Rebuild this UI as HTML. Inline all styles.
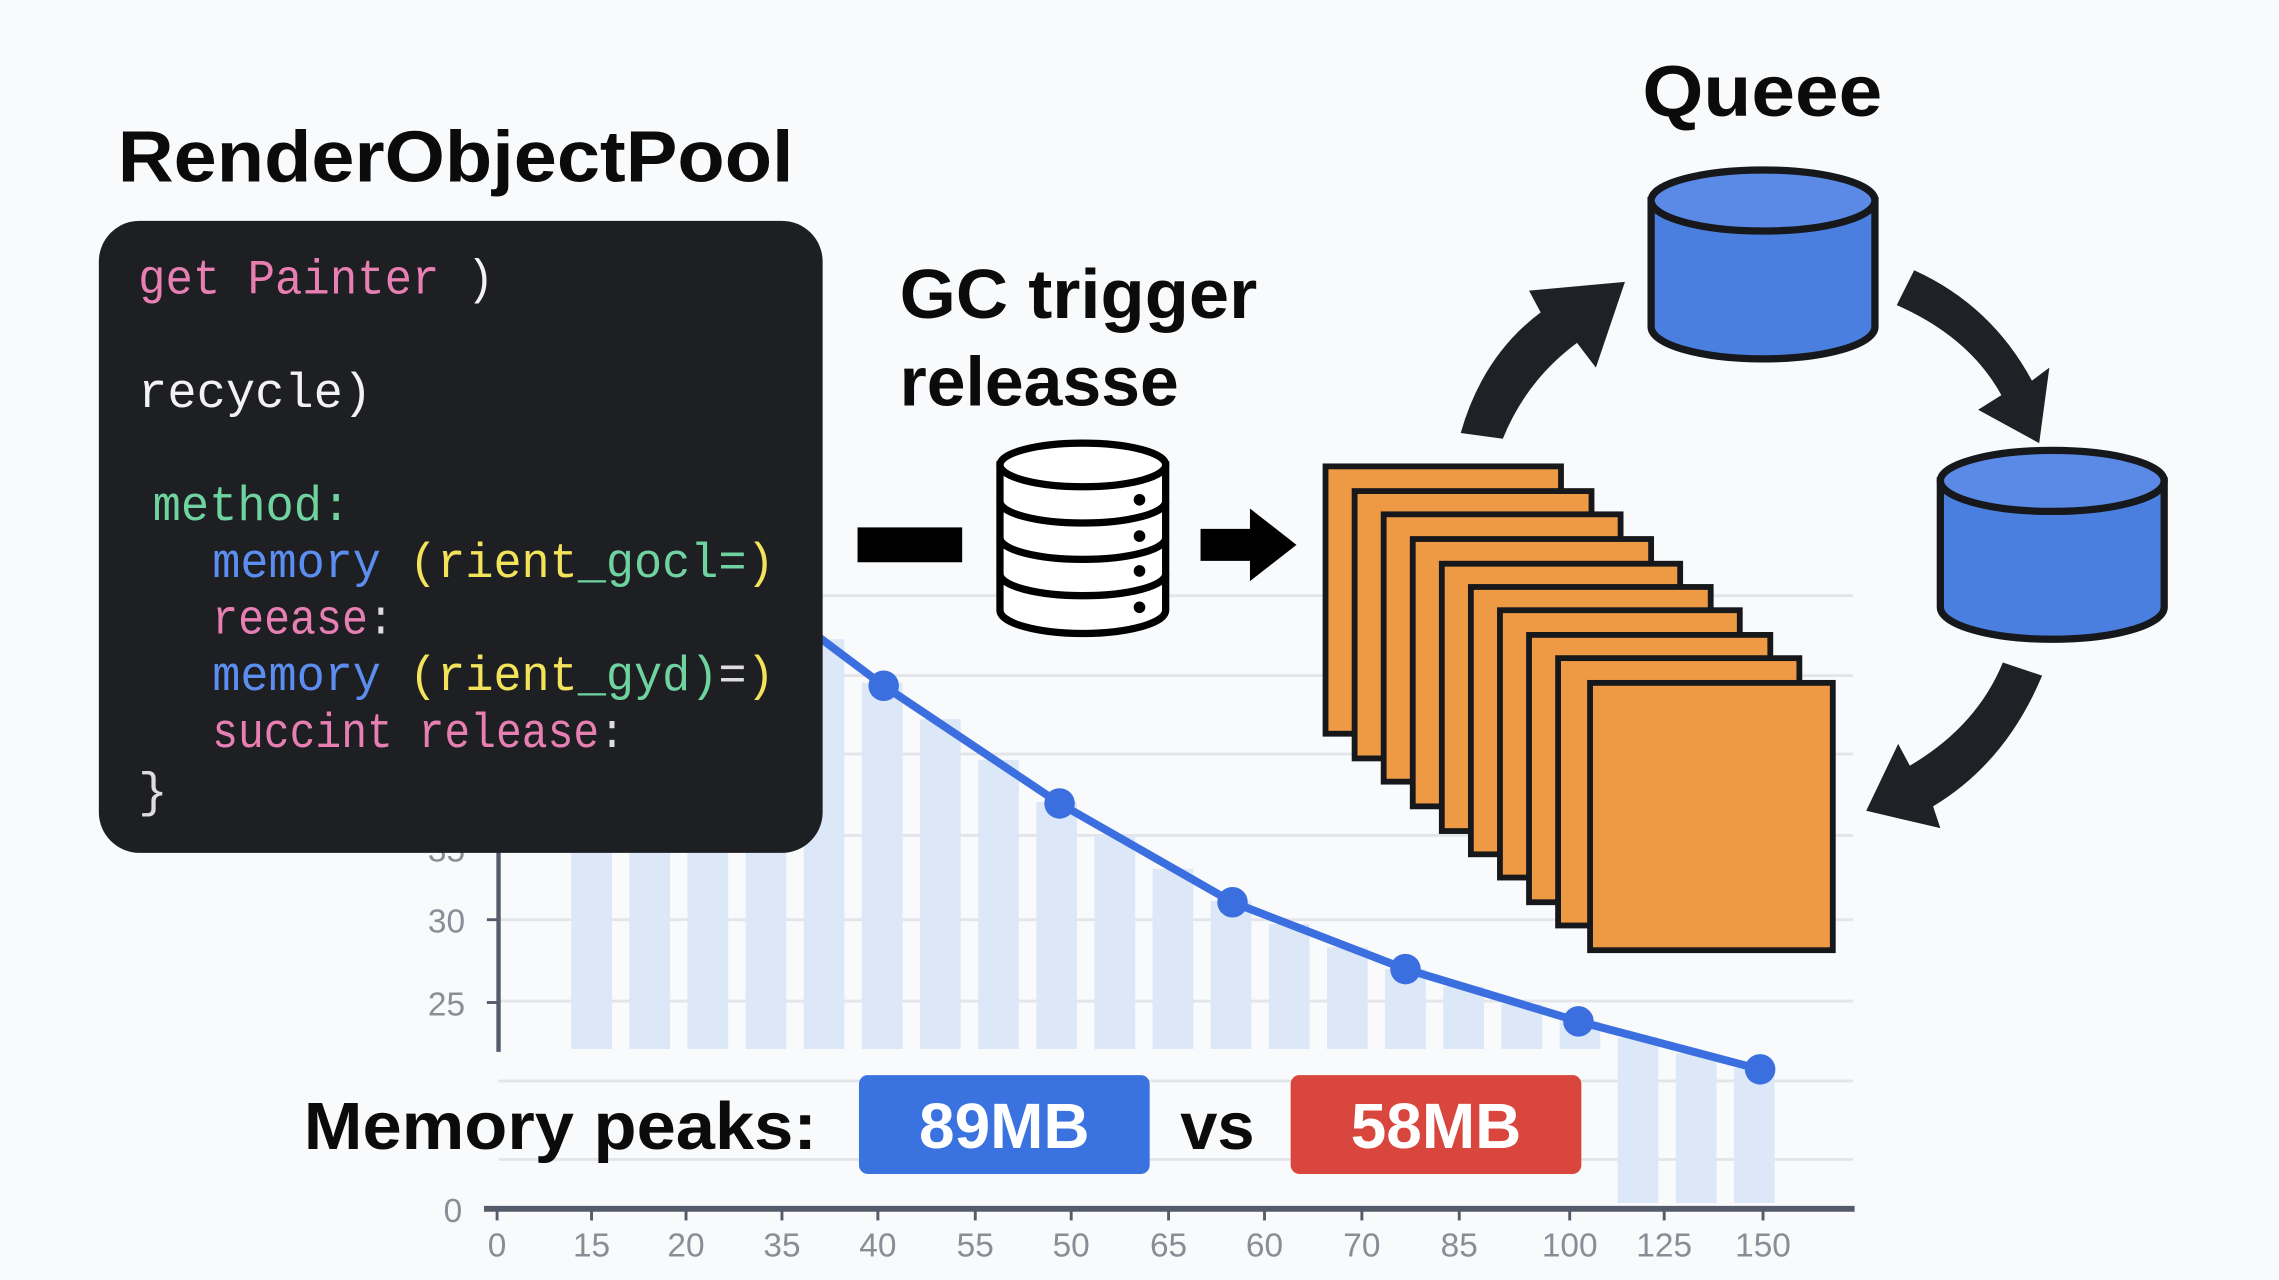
<!DOCTYPE html>
<html><head><meta charset="utf-8"><style>
html,body{margin:0;padding:0;background:#f9fafb;}
svg{display:block;}
.b{font-family:"Liberation Sans",sans-serif;font-weight:bold;fill:#0b0b0b;}
.m{font-family:"Liberation Mono",monospace;font-size:34px;}
.ax{font-family:"Liberation Sans",sans-serif;font-size:23px;fill:#8a8d96;}
</style></head><body>
<svg width="2279" height="1280" viewBox="0 0 1568 881" preserveAspectRatio="none" xmlns="http://www.w3.org/2000/svg">
<rect width="1568" height="881" fill="#f9fafb"/>
<g stroke="#e3e5ea" stroke-width="2">
<line x1="343" y1="410" x2="1275" y2="410"/><line x1="343" y1="465" x2="1275" y2="465"/>
<line x1="343" y1="519" x2="1275" y2="519"/><line x1="343" y1="575" x2="1275" y2="575"/>
<line x1="343" y1="633" x2="1275" y2="633"/><line x1="343" y1="689" x2="1275" y2="689"/>
<line x1="343" y1="744" x2="1275" y2="744"/><line x1="343" y1="798" x2="1275" y2="798"/>
</g>
<g fill="#dce7f8">
<rect x="393" y="440" width="28" height="282"/><rect x="433" y="440" width="28" height="282"/>
<rect x="473" y="440" width="28" height="282"/><rect x="513" y="440" width="28" height="282"/>
<rect x="553" y="440" width="28" height="282"/><rect x="593" y="470" width="28" height="252"/>
<rect x="633" y="495" width="28" height="227"/><rect x="673" y="523" width="28" height="199"/>
<rect x="713" y="552" width="28" height="170"/><rect x="753" y="575" width="28" height="147"/>
<rect x="793" y="598" width="28" height="124"/><rect x="833" y="620" width="28" height="102"/>
<rect x="873" y="636" width="28" height="86"/><rect x="913" y="652" width="28" height="70"/>
<rect x="953" y="667" width="28" height="55"/><rect x="993" y="679" width="28" height="43"/>
<rect x="1033" y="691" width="28" height="31"/><rect x="1073" y="703" width="28" height="19"/>
<rect x="1113" y="714" width="28" height="114"/><rect x="1153" y="725" width="28" height="103"/>
<rect x="1193" y="735" width="28" height="93"/>
</g>
<line x1="343" y1="580" x2="343" y2="724" stroke="#565b6b" stroke-width="3"/>
<line x1="333" y1="832" x2="1276" y2="832" stroke="#565b6b" stroke-width="4"/>
<g stroke="#565b6b" stroke-width="2">
<line x1="342" y1="832" x2="342" y2="840"/><line x1="407" y1="832" x2="407" y2="840"/><line x1="472" y1="832" x2="472" y2="840"/><line x1="538" y1="832" x2="538" y2="840"/><line x1="604" y1="832" x2="604" y2="840"/><line x1="671" y1="832" x2="671" y2="840"/><line x1="737" y1="832" x2="737" y2="840"/><line x1="804" y1="832" x2="804" y2="840"/><line x1="870" y1="832" x2="870" y2="840"/><line x1="937" y1="832" x2="937" y2="840"/><line x1="1004" y1="832" x2="1004" y2="840"/><line x1="1080" y1="832" x2="1080" y2="840"/><line x1="1145" y1="832" x2="1145" y2="840"/><line x1="1213" y1="832" x2="1213" y2="840"/>
<line x1="335" y1="633" x2="343" y2="633"/><line x1="335" y1="690" x2="343" y2="690"/>
</g>
<g class="ax" text-anchor="middle">
<text x="342" y="865">0</text><text x="407" y="865">15</text><text x="472" y="865">20</text><text x="538" y="865">35</text><text x="604" y="865">40</text><text x="671" y="865">55</text><text x="737" y="865">50</text><text x="804" y="865">65</text><text x="870" y="865">60</text><text x="937" y="865">70</text><text x="1004" y="865">85</text><text x="1080" y="865">100</text><text x="1145" y="865">125</text><text x="1213" y="865">150</text>
</g>
<g class="ax" text-anchor="end">
<text x="320" y="642">30</text><text x="320" y="699">25</text><text x="318" y="841">0</text><text x="320" y="593">35</text>
</g>
<polyline points="560,436 608,472 729,553 848,621 967,667 1086,703 1211,736" fill="none" stroke="#3b6fe0" stroke-width="5.5" stroke-linejoin="round"/>
<g fill="#3b6fe0">
<circle cx="608" cy="472" r="10.5"/><circle cx="729" cy="553" r="10.5"/><circle cx="848" cy="621" r="10.5"/><circle cx="967" cy="667" r="10.5"/><circle cx="1086" cy="703" r="10.5"/><circle cx="1211" cy="736" r="10.5"/>
</g>
<text class="b" x="81" y="125" font-size="50" textLength="465" lengthAdjust="spacingAndGlyphs">RenderObjectPool</text>
<rect x="68" y="152" width="498" height="435" rx="28" fill="#1e1f23"/>
<g class="m">
<text x="95" y="202" textLength="245" lengthAdjust="spacingAndGlyphs"><tspan fill="#e77fb3">get Painter</tspan><tspan fill="#f2f2f2"> )</tspan></text>
<text x="95" y="280" fill="#f2f2f2" textLength="161" lengthAdjust="spacingAndGlyphs">recycle)</text>
<text x="105" y="358" fill="#6fd3a0" textLength="136" lengthAdjust="spacingAndGlyphs">method:</text>
<text x="146" y="397" textLength="387" lengthAdjust="spacingAndGlyphs"><tspan fill="#5b8ef0">memory</tspan><tspan fill="#f2e35a"> (rient</tspan><tspan fill="#6fd3a0">_gocl=</tspan><tspan fill="#f2e35a">)</tspan></text>
<text x="146" y="436" fill="#e77fb3" textLength="125" lengthAdjust="spacingAndGlyphs">reease<tspan fill="#ddd">:</tspan></text>
<text x="146" y="475" textLength="387" lengthAdjust="spacingAndGlyphs"><tspan fill="#5b8ef0">memory</tspan><tspan fill="#f2e35a"> (rient</tspan><tspan fill="#6fd3a0">_gyd)</tspan><tspan fill="#ddd">=</tspan><tspan fill="#f2e35a">)</tspan></text>
<text x="146" y="514" fill="#e77fb3" textLength="284" lengthAdjust="spacingAndGlyphs">succint release<tspan fill="#ddd">:</tspan></text>
<text x="95" y="555" fill="#ddd">}</text>
</g>
<text class="b" x="619" y="219" font-size="48" textLength="246" lengthAdjust="spacingAndGlyphs">GC trigger</text>
<text class="b" x="619" y="279" font-size="48" textLength="192" lengthAdjust="spacingAndGlyphs">releasse</text>
<rect x="590" y="363" width="72" height="24" fill="#000"/>
<g stroke="#000" stroke-width="5" fill="#fff">
<path d="M688,320 L688,420 A57,16 0 0 0 802,420 L802,320 Z"/>
<ellipse cx="745" cy="320" rx="57" ry="15"/>
<path d="M688,345 A57,15 0 0 0 802,345" fill="none"/>
<path d="M688,370 A57,15 0 0 0 802,370" fill="none"/>
<path d="M688,395 A57,15 0 0 0 802,395" fill="none"/>
</g>
<g fill="#000"><circle cx="784" cy="344" r="4"/><circle cx="784" cy="369" r="4"/><circle cx="784" cy="393" r="4"/><circle cx="784" cy="418" r="4"/></g>
<polygon points="826,364 860,364 860,350 892,375 860,400 860,386 826,386" fill="#000"/>
<g fill="#ee9a45" stroke="#17181b" stroke-width="4">
<rect x="912" y="321" width="162" height="184"/>
<rect x="932" y="338" width="163" height="184"/>
<rect x="952" y="354" width="163" height="184"/>
<rect x="972" y="371" width="164" height="184"/>
<rect x="992" y="388" width="164" height="184"/>
<rect x="1012" y="404" width="165" height="184"/>
<rect x="1032" y="420" width="165" height="184"/>
<rect x="1052" y="437" width="166" height="184"/>
<rect x="1072" y="453" width="166" height="184"/>
<rect x="1094" y="470" width="167" height="184"/>
</g>
<text class="b" x="1130" y="80" font-size="50" textLength="165" lengthAdjust="spacingAndGlyphs">Queee</text>
<g stroke="#17181b" stroke-width="5" fill="#4a7fe0">
<path d="M1136,138 L1136,225 A77,22 0 0 0 1290,225 L1290,138 Z"/>
<ellipse cx="1213" cy="138" rx="77" ry="21" fill="#5a8ae6"/>
<path d="M1335,331 L1335,418 A77,22 0 0 0 1489,418 L1489,331 Z"/>
<ellipse cx="1412" cy="331" rx="77" ry="21" fill="#5a8ae6"/>
</g>
<g fill="#1f2126">
<path d="M1005,298 Q1020,245 1060,215 L1052,200 L1118,194 L1098,253 L1085,236 Q1050,262 1034,302 Z"/>
<path d="M1317,186 Q1370,210 1398,262 L1410,253 L1403,305 L1361,282 L1377,272 Q1355,232 1305,210 Z"/>
<path d="M1378,456 L1405,465 Q1380,525 1330,555 L1335,570 L1284,558 L1306,512 L1314,527 Q1360,500 1378,456 Z"/>
</g>
<text class="b" x="209" y="791" font-size="46" textLength="353" lengthAdjust="spacingAndGlyphs">Memory peaks:</text>
<rect x="591" y="740" width="200" height="68" rx="6" fill="#3a73e0"/>
<text x="691" y="790" text-anchor="middle" font-family="Liberation Sans,sans-serif" font-size="44" font-weight="bold" fill="#fff">89MB</text>
<text class="b" x="812" y="791" font-size="46">vs</text>
<rect x="888" y="740" width="200" height="68" rx="6" fill="#d9463e"/>
<text x="988" y="790" text-anchor="middle" font-family="Liberation Sans,sans-serif" font-size="44" font-weight="bold" fill="#fff">58MB</text>
</svg>
</body></html>
